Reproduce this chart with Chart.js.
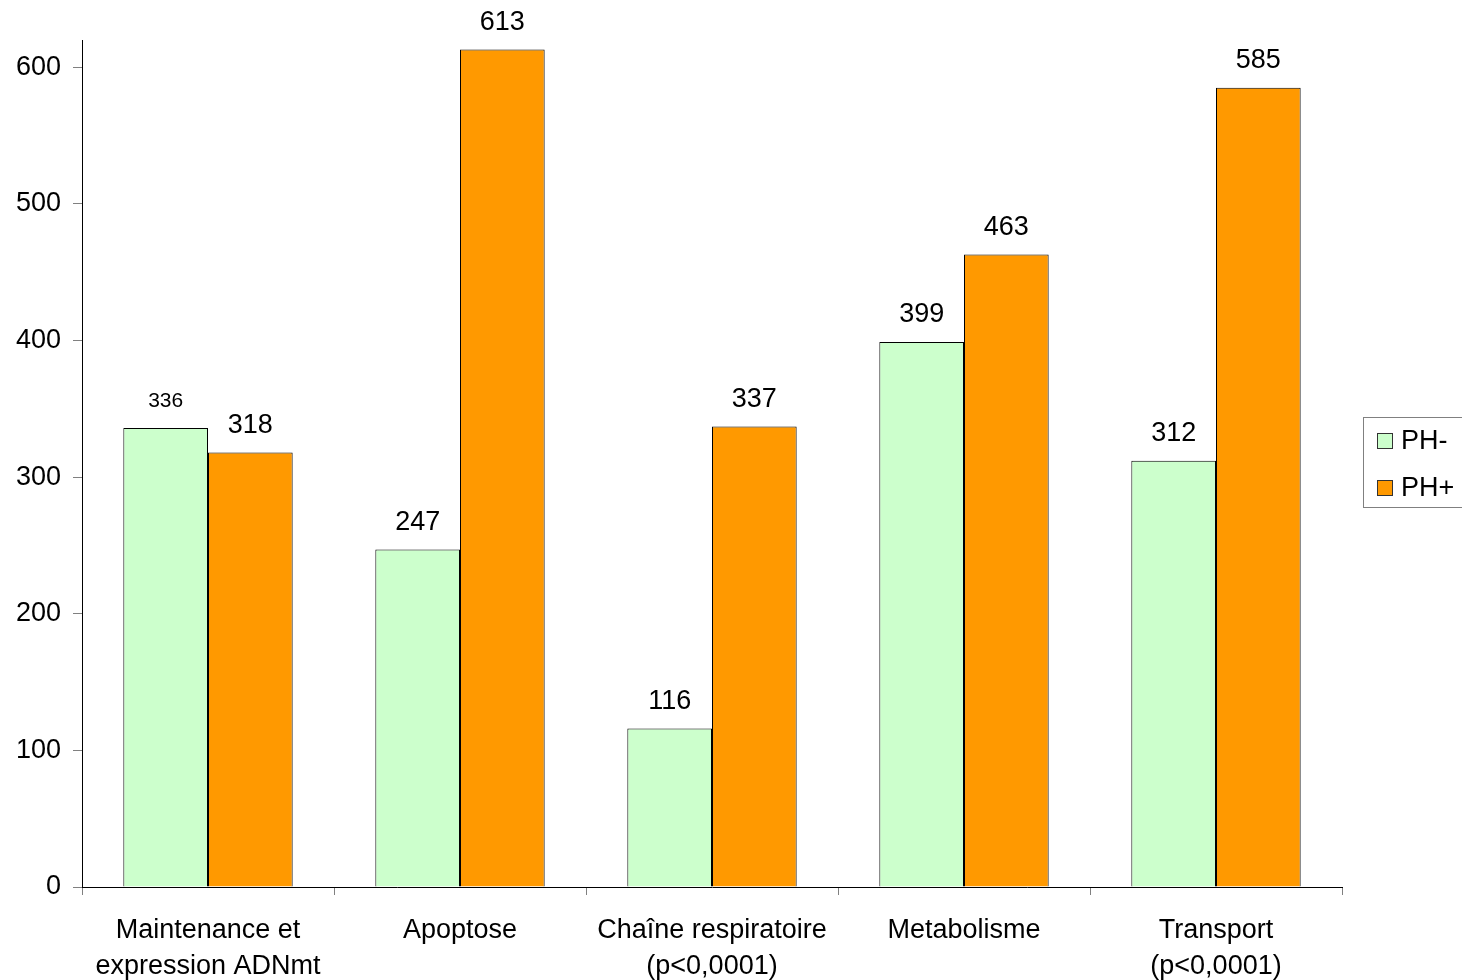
<!DOCTYPE html>
<html>
<head>
<meta charset="utf-8">
<script src="https://cdn.jsdelivr.net/npm/chart.js@4/dist/chart.umd.min.js"></script>
<style>
  html, body { margin: 0; padding: 0; background: #fff; }
  #wrap { width: 1462px; height: 980px; }
</style>
</head>
<body>
<div id="wrap"><canvas id="c" width="1462" height="980"></canvas></div>
<script>
const categories = [
  ["Maintenance et", "expression ADNmt"],
  ["Apoptose"],
  ["Chaîne respiratoire", "(p<0,0001)"],
  ["Metabolisme"],
  ["Transport", "(p<0,0001)"]
];
const seriesNames = ["PH-", "PH+"];
const phMinus = [336, 247, 116, 399, 312];
const phPlus = [318, 613, 337, 463, 585];
const yTicks = [0, 100, 200, 300, 400, 500, 600];

const FONT = "'Liberation Sans', Arial, sans-serif";
const colors = ["#CCFFCC", "#FF9900"];

// value labels above each bar
const valueLabels = {
  id: 'valueLabels',
  afterDatasetsDraw(chart) {
    const ctx = chart.ctx;
    ctx.save();
    ctx.fillStyle = '#000';
    ctx.textAlign = 'center';
    ctx.textBaseline = 'middle';
    chart.data.datasets.forEach((ds, di) => {
      const meta = chart.getDatasetMeta(di);
      meta.data.forEach((bar, i) => {
        const small = (di === 0 && i === 0);
        ctx.font = (small ? '21px ' : '27px ') + FONT;
        ctx.fillText(String(ds.data[i]), bar.x, bar.y - 27);
      });
    });
    ctx.restore();
  }
};

// boxed legend on the right
const boxLegend = {
  id: 'boxLegend',
  afterDraw(chart) {
    const ctx = chart.ctx;
    ctx.save();
    const x = 1363.5, y = 417.5, w = 110, h = 90;
    ctx.strokeStyle = '#808080';
    ctx.lineWidth = 1;
    ctx.strokeRect(x, y, w, h);
    ctx.font = '27px ' + FONT;
    ctx.textBaseline = 'middle';
    ctx.textAlign = 'left';
    chart.data.datasets.forEach((ds, i) => {
      const cy = 441 + i * 47;
      ctx.fillStyle = ds.backgroundColor;
      ctx.fillRect(1377, cy - 8, 15, 15);
      ctx.strokeStyle = '#333';
      ctx.strokeRect(1377.5, cy - 7.5, 15, 15);
      ctx.fillStyle = '#000';
      ctx.fillText(ds.label, 1401, cy + 1);
    });
    ctx.restore();
  }
};

new Chart(document.getElementById('c'), {
  type: 'bar',
  data: {
    labels: categories,
    datasets: [
      { label: seriesNames[0], data: phMinus, backgroundColor: colors[0], borderColor: '#000', borderWidth: 1,
        categoryPercentage: 0.672, barPercentage: 1 },
      { label: seriesNames[1], data: phPlus, backgroundColor: colors[1], borderColor: '#000', borderWidth: 1,
        categoryPercentage: 0.672, barPercentage: 1 }
    ]
  },
  options: {
    responsive: false,
    animation: false,
    layout: { padding: { top: 40, right: 120, left: 0, bottom: 0 } },
    plugins: { legend: { display: false }, tooltip: { enabled: false } },
    scales: {
      x: {
        grid: { display: true, drawOnChartArea: false, offset: true, tickLength: 8, color: '#808080' },
        border: { display: true, color: '#000', width: 1 },
        ticks: { color: '#000', font: { family: FONT, size: 27, lineHeight: 1.33 }, padding: 18, maxRotation: 0, autoSkip: false },
        afterFit(scale) { scale.height = 93; }
      },
      y: {
        min: 0, max: 620,
        afterBuildTicks(scale) { scale.ticks = yTicks.map(v => ({ value: v })); },
        grid: { display: true, drawOnChartArea: false, tickLength: 9, color: '#808080' },
        border: { display: true, color: '#000', width: 1 },
        ticks: { color: '#000', font: { family: FONT, size: 27 }, padding: 12 },
        afterFit(scale) { scale.width = 82; }
      }
    }
  },
  plugins: [valueLabels, boxLegend]
});
</script>
</body>
</html>
